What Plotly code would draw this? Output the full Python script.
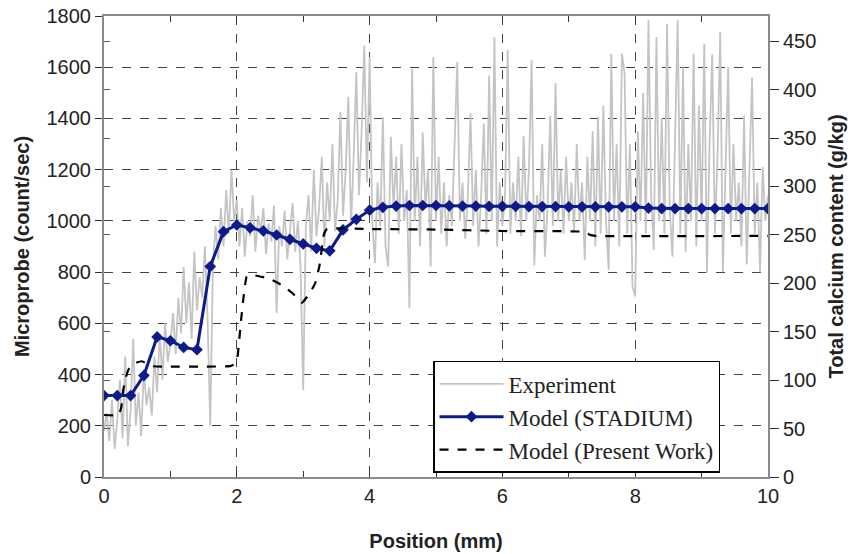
import numpy as np
import plotly.graph_objects as go

# ---------------- data ----------------
# Experiment (microprobe, count/sec), sampled every 0.04 mm from 0 to 10 mm
exp_x = np.round(np.arange(0, 10.0001, 0.04), 2)
exp_y = [
    # 0.00 - 0.96
    180, 250, 140, 300, 110, 220, 380, 150, 470, 120, 260, 540, 200, 330, 160, 420, 280, 350, 240, 470, 330, 560, 380, 600, 450,
    # 1.00 - 1.96
    520, 640, 480, 700, 560, 820, 600, 760, 540, 880, 650, 780, 700, 900, 620, 200, 820, 980, 850, 1050, 900, 1120, 950, 1200, 1000,
    # 2.00 - 2.96
    1080, 900, 1050, 860, 1000, 940, 1100, 880, 1020, 960, 1050, 870, 990, 920, 1060, 640, 980, 900, 1040, 850, 960, 1070, 880, 1000, 820,
    # 3.00 - 3.96
    340, 980, 1100, 880, 1200, 940, 1050, 1250, 900, 1150, 1000, 1300, 960, 1080, 1425, 1020, 1200, 1485, 980, 1250, 1580, 1100, 1350, 1685, 1150,
    # 4.00 - 4.96
    1640, 1000, 835, 1150, 980, 1406, 900, 822, 1328, 1050, 1250, 950, 1300, 1000, 1120, 660, 1594, 1000, 1250, 900, 1345, 1050, 1200, 822, 1640,
    # 5.00 - 5.96
    1000, 1250, 950, 1150, 900, 1100, 980, 1300, 1620, 1000, 1150, 930, 1100, 1420, 980, 1200, 900, 1100, 1380, 950, 1568, 1000, 1717, 900, 1150,
    # 6.00 - 6.96
    980, 1100, 1666, 950, 1150, 1000, 1250, 940, 1330, 1000, 1200, 1627, 827, 1100, 1000, 1300, 860, 1050, 1410, 980, 1537, 1000, 1200, 950, 1250,
    # 7.00 - 7.96
    1000, 1150, 960, 1300, 1000, 1150, 848, 1250, 1000, 1350, 900, 1406, 950, 1450, 1000, 809, 1653, 1000, 1300, 900, 1653, 1575, 950, 1300, 744,
    # 8.00 - 8.96
    705, 1350, 1000, 1500, 950, 1783, 1100, 887, 1718, 1000, 1400, 950, 1770, 1050, 860, 1300, 1783, 950, 1600, 880, 1300, 1000, 1653, 900, 1450,
    # 9.00 - 10.00
    1000, 1692, 796, 1300, 1650, 950, 1250, 1737, 800, 1200, 1600, 950, 1300, 1000, 1150, 900, 1412, 830, 1200, 1560, 950, 1150, 800, 1210, 1000, 1100,
]

# Model (STADIUM), count/sec, every 0.2 mm
stadium_x = [round(0.2 * i, 1) for i in range(51)]
stadium_y = [
    318, 318, 318, 396, 547, 532, 506, 497, 822, 958,
    984, 973, 961, 945, 928, 910, 893, 883, 965, 1006,
    1042, 1053, 1058, 1060, 1060, 1060, 1059, 1058, 1058, 1057,
    1057, 1057, 1056, 1056, 1056, 1055, 1055, 1055, 1055, 1055,
    1055, 1050, 1048, 1048, 1048, 1048, 1048, 1048, 1048, 1048, 1048,
]

# Model (Present Work), total calcium content g/kg
present_x = [0, 0.22, 0.26, 0.29, 0.33, 0.37, 0.45, 0.57, 0.72, 1.0, 1.5, 1.9, 1.95, 2.0, 2.06,
             2.1, 2.15, 2.22, 2.35, 2.48, 2.6, 2.7, 2.85, 2.98, 3.08, 3.18, 3.25, 3.31, 3.36,
             4.0, 5.0, 6.0, 7.25, 7.32, 7.4, 10]
present_y = [64, 64, 72, 90, 103, 111, 117, 119.5, 114.5, 114, 114, 114.5, 116, 120, 159,
             185, 207, 209, 207, 205, 201, 197, 189, 180, 188, 200, 220, 250, 256,
             256, 255.5, 254, 253, 250, 249, 249]

x_ticks = [0, 2, 4, 6, 8, 10]
left_ticks = list(range(0, 1801, 200))
right_ticks = list(range(0, 451, 50))

# ---------------- figure ----------------
TICKFONT = dict(family="Liberation Sans, Arial, sans-serif", size=20, color="#222")
TITLEFONT = dict(family="Liberation Sans, Arial, sans-serif", size=20, color="#222")
GRID = "#444"
FRAME = "#8a8a8a"

fig = go.Figure()
fig.add_trace(go.Scatter(
    x=exp_x, y=exp_y, mode="lines", name="Experiment",
    line=dict(color="#c4c4c4", width=1.8), yaxis="y"))
fig.add_trace(go.Scatter(
    x=stadium_x, y=stadium_y, mode="lines+markers", name="Model (STADIUM)",
    line=dict(color="#0d1a8a", width=3),
    marker=dict(symbol="diamond", size=9, color="#0d1a8a"), yaxis="y"))
fig.add_trace(go.Scatter(
    x=present_x, y=present_y, mode="lines", name="Model (Present Work)",
    line=dict(color="black", width=2.2, dash="dash", shape="spline", smoothing=0.4),
    yaxis="y2"))
# helper trace for inner ticks of the right scale on the left spine
fig.add_trace(go.Scatter(x=[0], y=[0], mode="markers", marker=dict(opacity=0),
                         showlegend=False, hoverinfo="skip", yaxis="y3"))

fig.update_layout(
    width=854, height=554,
    margin=dict(l=104, r=86, t=16, b=77),
    plot_bgcolor="white", paper_bgcolor="white",
    showlegend=True,
    legend=dict(
        x=0.4955, y=0.252, xanchor="left", yanchor="top",
        bgcolor="white", bordercolor="black", borderwidth=1.5,
        font=dict(family="Liberation Serif, Times New Roman, serif", size=23, color="#222"),
        itemwidth=64, tracegroupgap=0,
    ),
    xaxis=dict(
        range=[0, 10], tickvals=x_ticks, ticktext=[str(v) for v in x_ticks],
        ticks="inside", ticklen=6, tickcolor="#333",
        minor=dict(dtick=1, ticks="inside", ticklen=6, tickcolor="#333", showgrid=False),
        showgrid=True, gridcolor=GRID, griddash="dash", gridwidth=1,
        showline=True, linecolor=FRAME, linewidth=2, mirror="ticks",
        zeroline=False, tickfont=TICKFONT, automargin=False,
        title=dict(text="<b>Position (mm)</b>", font=TITLEFONT, standoff=28),
    ),
    yaxis=dict(
        range=[0, 1800], tickvals=left_ticks,
        ticks="outside", ticklen=7, tickcolor="#333",
        showgrid=True, gridcolor=GRID, griddash="dash", gridwidth=1,
        showline=True, linecolor=FRAME, linewidth=2, mirror=True,
        zeroline=False, tickfont=TICKFONT, automargin=False,
        title=dict(text="<b>Microprobe (count/sec)</b>", font=TITLEFONT, standoff=12),
    ),
    yaxis2=dict(
        range=[0, 476], tickvals=right_ticks, overlaying="y", side="right",
        ticks="outside", ticklen=9, tickcolor="#333",
        showgrid=False, zeroline=False,
        showline=True, linecolor=FRAME, linewidth=2,
        tickfont=TICKFONT, automargin=False,
        title=dict(text="<b>Total calcium content (g/kg)</b>", font=TITLEFONT, standoff=14),
    ),
    yaxis3=dict(
        range=[0, 476], tickvals=right_ticks, overlaying="y", side="left",
        anchor="x", ticks="inside", ticklen=6, tickcolor="#555",
        showticklabels=False, showgrid=False, zeroline=False, showline=False,
        automargin=False,
    ),
)

fig.write_html("out.html")
